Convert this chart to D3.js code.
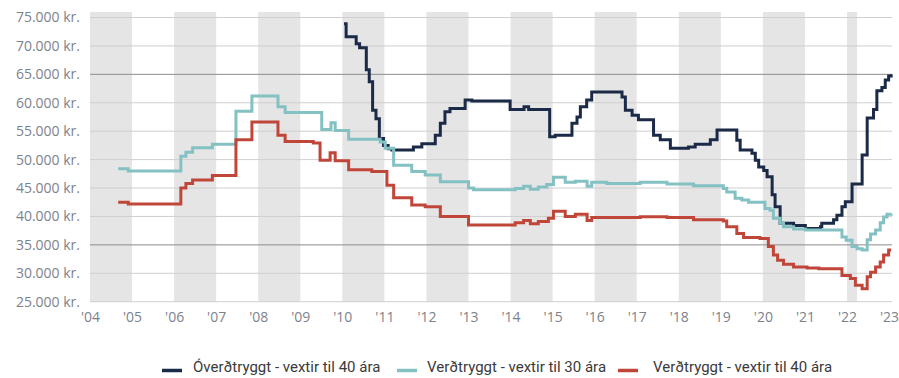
<!DOCTYPE html>
<html>
<head>
<meta charset="utf-8">
<script src="https://cdn.jsdelivr.net/npm/d3@7/dist/d3.min.js"></script>
<style>
  html, body { margin: 0; padding: 0; background: #fff; }
  svg { display: block; }
</style>
</head>
<body>
<svg id="chart" width="899" height="378"></svg>
<script>
// ---- Data (decimal year, ISK per month) ----
const yearTicks = d3.range(2004, 2024);
const yTicks = d3.range(25000, 75001, 5000);
const shadedYears = [2004, 2006, 2008, 2010, 2012, 2014, 2016, 2018, 2020, 2022];
const shadeEnd2022 = 2022.24;

const seriesNames = [
  "Óverðtryggt - vextir til 40 ára",
  "Verðtryggt - vextir til 30 ára",
  "Verðtryggt - vextir til 40 ára"
];
const seriesColors = ["#1b2a47", "#84c1c3", "#c1463a"];

const overdtryggt40 = [
  [2010.04, 73900], [2010.09, 71600], [2010.33, 70400], [2010.41, 69700],
  [2010.57, 65800], [2010.64, 63700], [2010.72, 58700], [2010.80, 57200],
  [2010.88, 53700], [2010.98, 52500], [2011.09, 51900], [2011.18, 51700],
  [2011.69, 52200], [2011.89, 52800], [2012.21, 54300], [2012.33, 56400],
  [2012.44, 58400], [2012.56, 59000], [2012.92, 60500], [2013.08, 60300],
  [2013.99, 58800], [2014.32, 59300], [2014.43, 58800], [2014.93, 54000],
  [2015.06, 54300], [2015.46, 56400], [2015.58, 57500], [2015.66, 59300],
  [2015.81, 60500], [2015.93, 61900], [2016.65, 61000], [2016.73, 58700],
  [2016.89, 57800], [2017.04, 57000], [2017.40, 54300], [2017.56, 53500],
  [2017.80, 52000], [2018.23, 52200], [2018.39, 52700], [2018.75, 53500],
  [2018.91, 55200], [2019.38, 53400], [2019.46, 51700], [2019.74, 51100],
  [2019.82, 49900], [2019.90, 48700], [2020.02, 48100], [2020.10, 47000],
  [2020.22, 43800], [2020.29, 41700], [2020.41, 38800], [2020.73, 38400],
  [2021.01, 37900], [2021.37, 38200], [2021.40, 38800], [2021.68, 39400],
  [2021.76, 40200], [2021.88, 41700], [2021.96, 42600], [2022.12, 45700],
  [2022.36, 50800], [2022.48, 57300], [2022.63, 58800], [2022.71, 62100],
  [2022.83, 62700], [2022.91, 64000], [2022.99, 64700], [2023.05, 65000]
];

const verdtryggt30 = [
  [2004.67, 48400], [2004.91, 48000], [2006.16, 50600], [2006.28, 51300],
  [2006.44, 52100], [2006.91, 52700], [2007.47, 58500], [2007.85, 61200],
  [2008.47, 59300], [2008.64, 58300], [2009.51, 55300], [2009.73, 56500],
  [2009.83, 55100], [2010.15, 53600], [2010.90, 53100], [2011.02, 52000],
  [2011.22, 49000], [2011.65, 47900], [2011.97, 47300], [2012.33, 46100],
  [2013.00, 45000], [2013.12, 44700], [2014.11, 44900], [2014.31, 45300],
  [2014.47, 44800], [2014.66, 45200], [2014.86, 45600], [2015.02, 46900],
  [2015.30, 46000], [2015.54, 46200], [2015.82, 45300], [2015.93, 46000],
  [2016.29, 45800], [2017.08, 46000], [2017.72, 45700], [2018.35, 45400],
  [2019.06, 44900], [2019.14, 44300], [2019.34, 43200], [2019.50, 42900],
  [2019.66, 42500], [2020.05, 41400], [2020.17, 41100], [2020.25, 39700],
  [2020.41, 38800], [2020.49, 38200], [2020.73, 37800], [2021.01, 37600],
  [2021.88, 36400], [2021.98, 35800], [2022.12, 34700], [2022.24, 34300],
  [2022.36, 34100], [2022.48, 35900], [2022.56, 36900], [2022.68, 37600],
  [2022.79, 38900], [2022.87, 39900], [2022.95, 40400], [2023.05, 40500]
];

const verdtryggt40 = [
  [2004.67, 42500], [2004.91, 42200], [2006.16, 45000], [2006.28, 45800],
  [2006.44, 46400], [2006.91, 47200], [2007.47, 53500], [2007.85, 56600],
  [2008.47, 54300], [2008.64, 53200], [2009.31, 52900], [2009.47, 49900],
  [2009.71, 51200], [2009.83, 49800], [2010.15, 48200], [2010.70, 47900],
  [2011.06, 45500], [2011.22, 43300], [2011.65, 42000], [2011.97, 41700],
  [2012.33, 40000], [2013.00, 38500], [2014.11, 38900], [2014.31, 39300],
  [2014.47, 38700], [2014.66, 39100], [2014.90, 39700], [2015.02, 40900],
  [2015.30, 40000], [2015.54, 40400], [2015.82, 39300], [2015.93, 39800],
  [2017.08, 39950], [2017.72, 39800], [2018.35, 39400], [2019.06, 39200],
  [2019.14, 38200], [2019.38, 37000], [2019.54, 36300], [2019.93, 36100],
  [2020.13, 34700], [2020.25, 33200], [2020.35, 32300], [2020.49, 31600],
  [2020.73, 31100], [2021.05, 30950], [2021.33, 30800], [2021.88, 29600],
  [2022.08, 29100], [2022.20, 27900], [2022.36, 27300], [2022.48, 29400],
  [2022.56, 30200], [2022.68, 31100], [2022.79, 32000], [2022.87, 33200],
  [2022.99, 34100], [2023.05, 34100]
];

const allSeries = [overdtryggt40, verdtryggt30, verdtryggt40];

// ---- Layout ----
const svg = d3.select("#chart");
const plotLeft = 90, plotRight = 892, plotTop = 12, plotBottom = 301.7;

const x = d3.scaleLinear().domain([2004, 2023.07]).range([plotLeft, plotRight]);
const y = d3.scaleLinear().domain([25000, 75000]).range([plotBottom, 17.5]);

// shaded year bands
svg.append("g").selectAll("rect")
  .data(shadedYears)
  .join("rect")
  .attr("x", d => x(d))
  .attr("y", plotTop)
  .attr("width", d => (d === 2022 ? x(shadeEnd2022) : x(d + 1)) - x(d))
  .attr("height", plotBottom - plotTop)
  .attr("fill", "#e5e5e5");

// gridlines
svg.append("g").selectAll("line")
  .data(yTicks)
  .join("line")
  .attr("x1", plotLeft).attr("x2", plotRight)
  .attr("y1", d => y(d)).attr("y2", d => y(d))
  .attr("stroke", d => (d === 65000 || d === 35000) ? "#8c8c8c" : "#cfcfcf")
  .attr("stroke-width", 1);

// y axis labels
const fmt = v => d3.format(",")(v).replace(/,/g, ".") + " kr.";
const yAxis = d3.axisLeft(y).tickValues(yTicks).tickSize(0).tickPadding(10).tickFormat(fmt);
const gy = svg.append("g").attr("transform", `translate(${plotLeft},0)`).call(yAxis);
gy.select(".domain").remove();
gy.selectAll("text")
  .attr("font-family", "'Open Sans', sans-serif")
  .attr("font-size", 14)
  .attr("fill", "#7d828c");

// x axis labels
const xAxis = d3.axisBottom(x).tickValues(yearTicks).tickSize(0).tickPadding(10)
  .tickFormat(d => "'" + String(d).slice(2));
const gx = svg.append("g").attr("transform", `translate(0,${plotBottom})`).call(xAxis);
gx.select(".domain").remove();
gx.selectAll("text")
  .attr("font-family", "'Open Sans', sans-serif")
  .attr("font-size", 14)
  .attr("fill", "#7d828c");

// lines
const line = d3.line()
  .x(d => x(d[0]))
  .y(d => y(d[1]))
  .curve(d3.curveStepAfter);

svg.append("g").selectAll("path")
  .data(allSeries)
  .join("path")
  .attr("d", line)
  .attr("fill", "none")
  .attr("stroke", (d, i) => seriesColors[i])
  .attr("stroke-width", 3)
  .attr("stroke-linejoin", "miter");

// legend
const swatchX = [162, 397, 618];
const textX = [193, 427, 653];
const lg = svg.append("g");
seriesNames.forEach((name, i) => {
  lg.append("line").attr("x1", swatchX[i]).attr("x2", swatchX[i] + 20)
    .attr("y1", 370.5).attr("y2", 370.5)
    .attr("stroke", seriesColors[i]).attr("stroke-width", 3.5);
  lg.append("text").attr("x", textX[i]).attr("y", 372)
    .attr("font-family", "Roboto, sans-serif")
    .attr("font-size", 15)
    .attr("fill", "#3a3a3a")
    .text(name);
});
</script>
</body>
</html>
